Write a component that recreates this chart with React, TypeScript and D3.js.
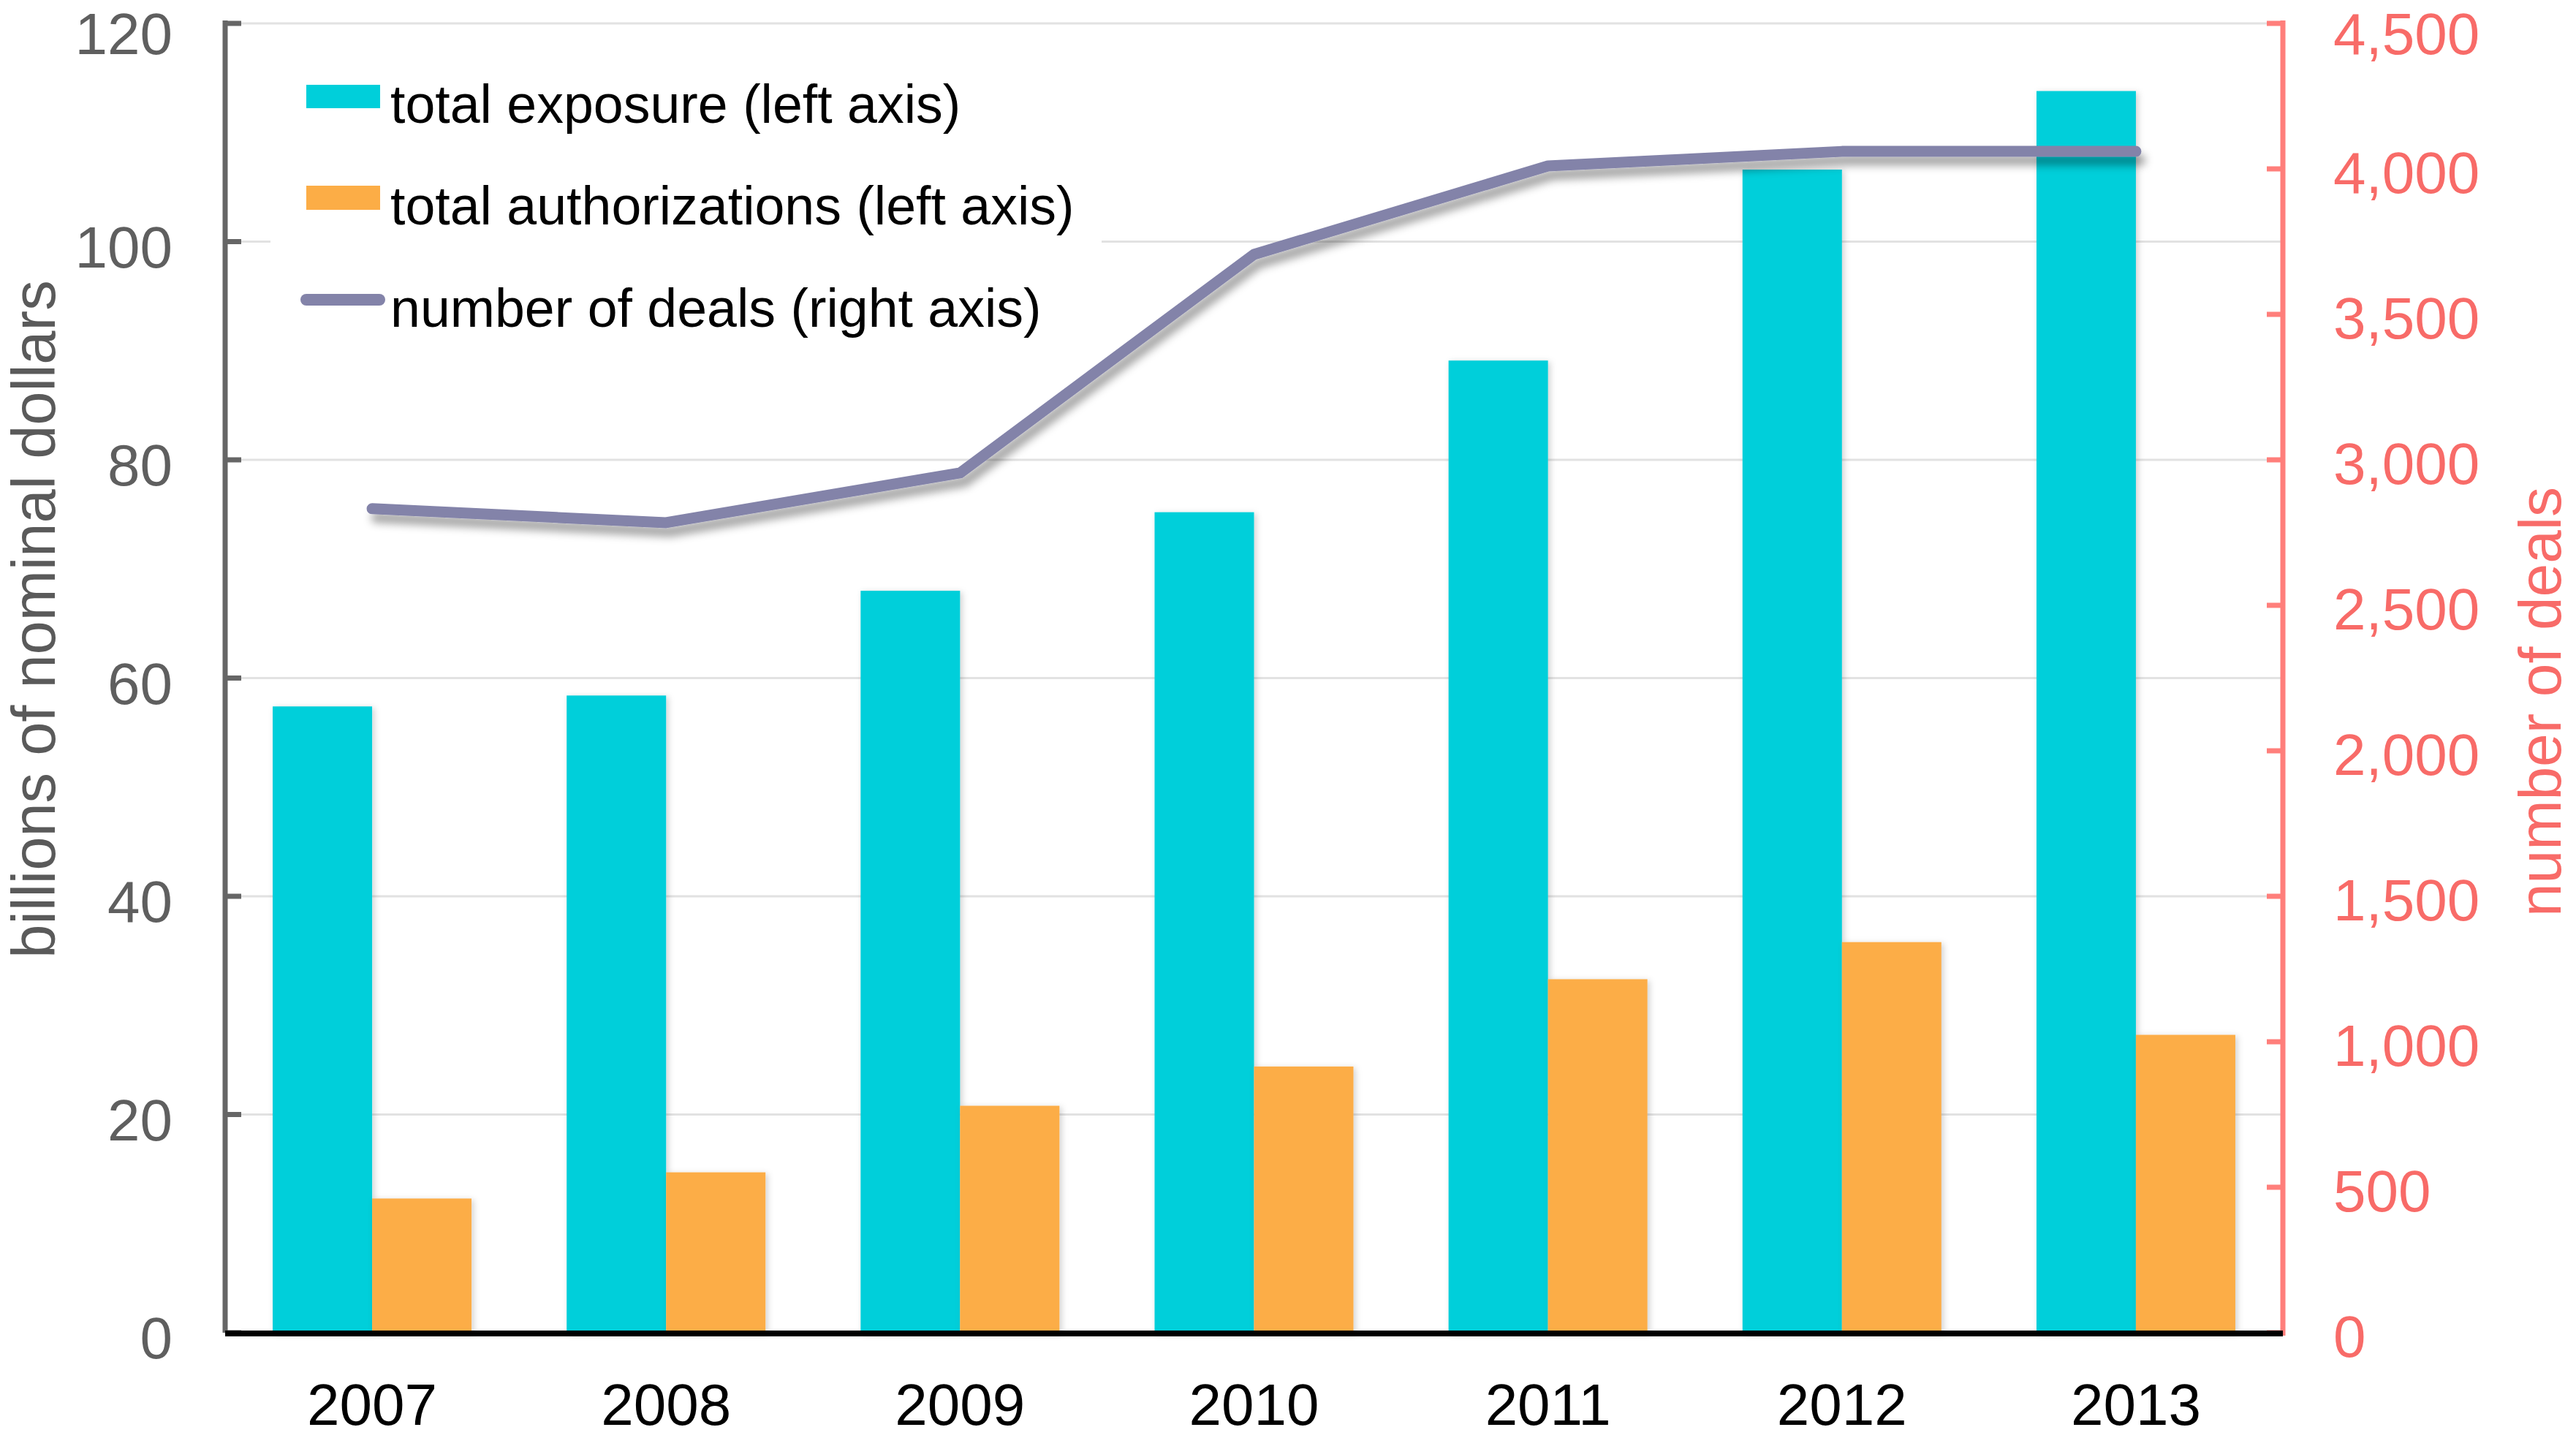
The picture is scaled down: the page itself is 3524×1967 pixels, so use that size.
import React from "react";
import * as d3 from "d3";

const years = ["2007", "2008", "2009", "2010", "2011", "2012", "2013"];
const totalExposure = [57.4, 58.4, 68.0, 75.2, 89.1, 106.6, 113.8];
const totalAuthorizations = [12.3, 14.7, 20.8, 24.4, 32.4, 35.8, 27.3];
const numberOfDeals = [2832, 2784, 2955, 3706, 4010, 4060, 4060];
const leftTicks = [0, 20, 40, 60, 80, 100, 120];
const rightTicks = [0, 500, 1000, 1500, 2000, 2500, 3000, 3500, 4000, 4500];
const seriesKeys = ["exposure", "authorizations"];
const legendLabels = [
  "total exposure (left axis)",
  "total authorizations (left axis)",
  "number of deals (right axis)",
];

const W = 3524;
const H = 1967;
const X0 = 308;
const X1 = 3123;
const Y0 = 1823;
const Y1 = 32;

const CYAN = "#00cfda";
const ORANGE = "#fcad46";
const PURPLE = "#8383a9";
const GRAY = "#666666";
const SALMON = "#ff7f7b";
const SALMON_TEXT = "#f86b68";
const FONT = "'Liberation Sans', Arial, sans-serif";

export default function App() {
  const p = 0.3236;
  const x = d3.scaleBand<string>().domain(years).range([X0, X1]).paddingInner(p).paddingOuter(p / 2);
  const xSub = d3.scaleBand<string>().domain(seriesKeys).range([0, x.bandwidth()]);
  const yL = d3.scaleLinear().domain([0, 120]).range([Y0, Y1]);
  const yR = d3.scaleLinear().domain([0, 4500]).range([Y0, Y1]);
  const fmt = d3.format(",");

  const line = d3
    .line<number>()
    .x((_, i) => (x(years[i]) as number) + x.bandwidth() / 2)
    .y((d) => yR(d));

  const values: Record<string, number[]> = {
    exposure: totalExposure,
    authorizations: totalAuthorizations,
  };
  const colors: Record<string, string> = { exposure: CYAN, authorizations: ORANGE };

  return (
    <svg
      width={W}
      height={H}
      style={{ position: "absolute", left: 0, top: 0, display: "block", background: "#fff" }}
      fontFamily={FONT}
    >
      <defs>
        <filter id="barShadow" x="-20%" y="-5%" width="140%" height="110%">
          <feDropShadow dx="3" dy="2" stdDeviation="4" floodColor="#000" floodOpacity="0.18" />
        </filter>
        <filter id="lineShadow" x="-5%" y="-20%" width="110%" height="160%">
          <feDropShadow dx="6" dy="12" stdDeviation="6" floodColor="#000" floodOpacity="0.35" />
        </filter>
      </defs>
      <rect x={0} y={0} width={W} height={H} fill="#fff" />

      {/* gridlines */}
      {leftTicks.slice(1).map((t) => (
        <line key={"g" + t} x1={X0} x2={X1} y1={yL(t)} y2={yL(t)} stroke="#e2e2e2" strokeWidth={3} />
      ))}

      {/* legend background */}
      <rect x={370} y={45} width={1137} height={440} fill="#fff" />

      {/* bars */}
      {years.map((yr, i) => (
        <g key={yr} transform={`translate(${x(yr)},0)`}>
          {seriesKeys.map((k) => (
            <rect
              key={k}
              x={xSub(k)}
              y={yL(values[k][i])}
              width={xSub.bandwidth()}
              height={Y0 - yL(values[k][i])}
              fill={colors[k]}
              filter="url(#barShadow)"
            />
          ))}
        </g>
      ))}

      {/* line */}
      <path
        d={line(numberOfDeals) || ""}
        fill="none"
        stroke={PURPLE}
        strokeWidth={15}
        strokeLinecap="round"
        strokeLinejoin="round"
        filter="url(#lineShadow)"
      />

      {/* left axis */}
      <line x1={X0} x2={X0} y1={Y1 - 4} y2={Y0} stroke={GRAY} strokeWidth={7} />
      {leftTicks.map((t) => (
        <g key={"l" + t}>
          <line x1={X0} x2={X0 + 22} y1={yL(t)} y2={yL(t)} stroke={GRAY} strokeWidth={7} />
          <text x={236} y={Math.max(yL(t) + 35, 74)} textAnchor="end" fontSize={80} fill="#5f5f5f">
            {t}
          </text>
        </g>
      ))}

      {/* right axis */}
      <line x1={X1} x2={X1} y1={Y1 - 4} y2={Y0 + 4} stroke={SALMON} strokeWidth={7} />
      {rightTicks.map((t) => (
        <g key={"r" + t}>
          <line x1={X1 - 22} x2={X1} y1={yR(t)} y2={yR(t)} stroke={SALMON} strokeWidth={7} />
          <text x={3192} y={Math.max(yR(t) + 33, 74)} textAnchor="start" fontSize={80} fill={SALMON_TEXT}>
            {fmt(t)}
          </text>
        </g>
      ))}

      {/* baseline */}
      <line x1={X0} x2={X1} y1={Y0 + 1} y2={Y0 + 1} stroke="#000" strokeWidth={8} />

      {/* x labels */}
      {years.map((yr) => (
        <text
          key={"x" + yr}
          x={(x(yr) as number) + x.bandwidth() / 2}
          y={1949}
          textAnchor="middle"
          fontSize={80}
          fill="#000"
        >
          {yr}
        </text>
      ))}

      {/* axis titles */}
      <text
        transform={`translate(75,847) rotate(-90)`}
        textAnchor="middle"
        fontSize={83}
        fill="#5a5a5a"
      >
        billions of nominal dollars
      </text>
      <text
        transform={`translate(3503,960) rotate(-90)`}
        textAnchor="middle"
        fontSize={82}
        fill={SALMON_TEXT}
      >
        number of deals
      </text>

      {/* legend */}
      <rect x={419} y={116} width={101} height={32} fill={CYAN} />
      <rect x={419} y={254} width={101} height={33} fill={ORANGE} />
      <line x1={419} x2={519} y1={410} y2={410} stroke={PURPLE} strokeWidth={16} strokeLinecap="round" />
      {legendLabels.map((l, i) => (
        <text key={l} x={534} y={[168, 307, 447][i]} fontSize={73.5} fill="#000">
          {l}
        </text>
      ))}
    </svg>
  );
}
